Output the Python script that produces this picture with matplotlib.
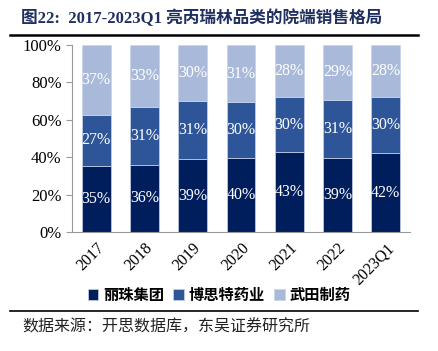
import matplotlib.pyplot as plt
import numpy as np
from matplotlib.lines import Line2D

plt.rcParams['font.family'] = ['Liberation Serif', 'Noto Sans CJK SC', 'DejaVu Sans']

years = ['2017', '2018', '2019', '2020', '2021', '2022', '2023Q1']
lizhu = [35, 36, 39, 40, 43, 39, 42]
bosite = [27, 31, 31, 30, 30, 31, 30]
wutian = [37, 33, 30, 31, 28, 29, 28]
names = ['丽珠集团', '博思特药业', '武田制药']
colors = ['#001E5C', '#2E5597', '#A9B9D9']

series = np.array([lizhu, bosite, wutian], dtype=float)
shares = series / series.sum(axis=0) * 100

fig = plt.figure(figsize=(4.38, 3.51), dpi=100)
ax = fig.add_axes([72 / 438, 1 - 232 / 351, 338 / 438, 187 / 351])

x = np.arange(len(years))
bottom = np.zeros(len(years))
for i in range(3):
    bars = ax.bar(x, shares[i], 0.6, bottom=bottom, color=colors[i],
                  edgecolor='#C8D3EA', linewidth=0.5, label=names[i])
    for j, b in enumerate(bars):
        ax.text(b.get_x() + b.get_width() / 2, bottom[j] + shares[i][j] / 2,
                '%d%%' % series[i][j], ha='center', va='center',
                color='white', fontsize=11.5)
    bottom += shares[i]

ax.set_xlim(-0.5, 6.5)
ax.set_ylim(0, 100)
ax.set_yticks(range(0, 101, 20))
ax.set_yticklabels(['%d%%' % v for v in range(0, 101, 20)], fontsize=12)
ax.set_xticks(x)
ax.set_xticklabels(years, rotation=45, fontsize=11.5, ha='right', rotation_mode='anchor')
for s in ['top', 'right']:
    ax.spines[s].set_visible(False)
ax.spines['left'].set_color('#999999')
ax.spines['bottom'].set_color('#999999')
ax.tick_params(axis='y', length=4, color='#999999')
ax.tick_params(axis='x', length=0, pad=6)

fig.text(21 / 438, 1 - 18 / 351, '图22:  2017-2023Q1 亮丙瑞林品类的院端销售格局',
         fontsize=12, fontweight='bold', color='#1F2F5F', va='center',
         family=['Liberation Serif', 'Noto Sans CJK SC'])
fig.add_artist(Line2D([10 / 438, 418 / 438], [1 - 35 / 351] * 2, color='black', lw=1.8))

ax.legend(loc='center', bbox_to_anchor=(0.5, 1 - 295 / 351), bbox_transform=fig.transFigure,
          ncol=3, frameon=False, handlelength=0.7, handleheight=0.7, handletextpad=0.3,
          columnspacing=0.6, prop={'family': 'Noto Sans CJK SC', 'size': 11, 'weight': 'bold'})

fig.add_artist(Line2D([10 / 438, 418 / 438], [1 - 311 / 351] * 2, color='black', lw=1.2))
fig.text(22 / 438, 1 - 327 / 351, '数据来源：开思数据库，东吴证券研究所', fontsize=11.5,
         va='center', color='#222222', family=['Noto Sans CJK SC'])

fig.savefig('out.png', dpi=100)
